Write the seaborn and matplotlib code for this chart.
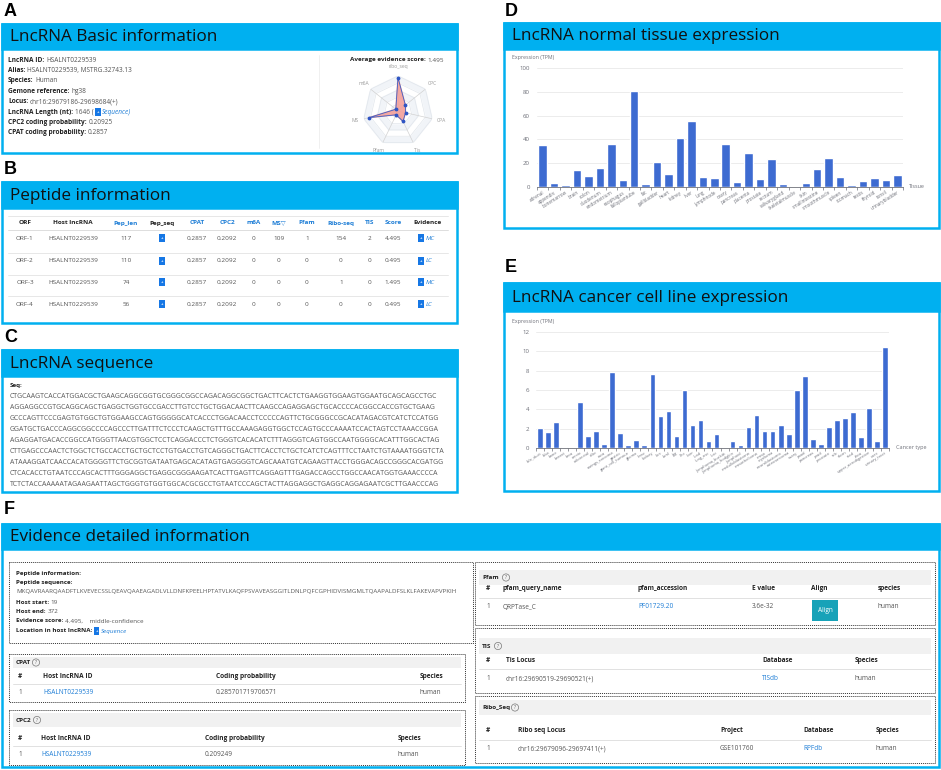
"""Rebuild the lncRNA detail page figure (panels A-F) on a 941x770 canvas:
info boxes and tables as text, expression panels as seaborn bar charts."""

import numpy as np
import matplotlib
matplotlib.use("Agg")
import matplotlib.pyplot as plt
from matplotlib.patches import Rectangle, Circle
import seaborn as sns

BLUE = "#00b0f0"
BAR = "#3d6bd1"
LINK = "#1f7ed6"
TXT = "#555555"
DARK = "#1a1a1a"
AXC = "#6e7079"

# ---- panel A ----
A_KEYS = ["LncRNA ID:", "Alias:", "Species:", "Gemone reference:", "Locus:",
          "LncRNA Length (nt):", "CPC2 coding probability:", "CPAT coding probability:"]
A_VALS = ["HSALNT0229539", "HSALNT0229539, MSTRG.32743.13", "Human", "hg38",
          "chr16:29679186-29698684(+)", "1646 (", "0.20925", "0.2857"]
RADAR_AXES = ["ribo_seq", "CPC", "CPA", "Tis", "Pfam", "MS", "m6A"]
RADAR_VALUES = [0.95, 0.27, 0.22, 0.33, 0.12, 0.85, 0.08]

# ---- panel B ----
B_COLS = ["ORF", "Host lncRNA", "Pep_len", "Pep_seq", "CPAT", "CPC2", "m6A", "MS\u25bd",
          "Pfam", "Ribo-seq", "TIS", "Score", "Evidence"]
B_BLUE = [False, False, True, False, True, True, True, True, True, True, True, True, False]
ORF_IDS = ["ORF-1", "ORF-2", "ORF-3", "ORF-4"]
HOST_IDS = ["HSALNT0229539", "HSALNT0229539", "HSALNT0229539", "HSALNT0229539"]
PEP_LEN = [117, 110, 74, 56]
PEP_CPAT = ["0.2857", "0.2857", "0.2857", "0.2857"]
PEP_CPC2 = ["0.2092", "0.2092", "0.2092", "0.2092"]
PEP_M6A = [0, 0, 0, 0]
PEP_MS = [109, 0, 0, 0]
PEP_PFAM = [1, 0, 0, 0]
PEP_RIBO = [154, 0, 1, 0]
PEP_TIS = [2, 0, 0, 0]
PEP_SCORE = ["4.495", "0.495", "1.495", "0.495"]
PEP_EVID = ["MC", "LC", "MC", "LC"]

# ---- panel C ----
SEQ_LINES = [
    "CTGCAAGTCACCATGGACGCTGAAGCAGGCGGTGCGGGCGGCCAGACAGGCGGCTGACTTCACTCTGAAGGTGGAAGTGGAATGCAGCAGCCTGC",
    "AGGAGGCCGTGCAGGCAGCTGAGGCTGGTGCCGACCTTGTCCTGCTGGACAACTTCAAGCCAGAGGAGCTGCACCCCACGGCCACCGTGCTGAAG",
    "GCCCAGTTCCCGAGTGTGGCTGTGGAAGCCAGTGGGGGCATCACCCTGGACAACCTCCCCCAGTTCTGCGGGCCGCACATAGACGTCATCTCCATGG",
    "GGATGCTGACCCAGGCGGCCCCAGCCCTTGATTTCTCCCTCAAGCTGTTTGCCAAAGAGGTGGCTCCAGTGCCCAAAATCCACTAGTCCTAAACCGGA",
    "AGAGGATGACACCGGCCATGGGTTAACGTGGCTCCTCAGGACCCTCTGGGTCACACATCTTTAGGGTCAGTGGCCAATGGGGCACATTTGGCACTAG",
    "CTTGAGCCCAACTCTGGCTCTGCCACCTGCTGCTCCTGTGACCTGTCAGGGCTGACTTCACCTCTGCTCATCTCAGTTTCCTAATCTGTAAAATGGGTCTA",
    "ATAAAGGATCAACCACATGGGGTTCTGCGGTGATAATGAGCACATAGTGAGGGGTCAGCAAATGTCAGAAGTTACCTGGGACAGCCGGGCACGATGG",
    "CTCACACCTGTAATCCCAGCACTTTGGGAGGCTGAGGCGGGAAGATCACTTGAGTTCAGGAGTTTGAGACCAGCCTGGCCAACATGGTGAAACCCCA",
    "TCTCTACCAAAAATAGAAGAATTAGCTGGGTGTGGTGGCACGCGCCTGTAATCCCAGCTACTTAGGAGGCTGAGGCAGGAGAATCGCTTGAACCCAG",
]

# ---- panel D ----
TISSUES = ["adrenal", "appendix", "bonemarrow", "brain", "colon", "duodenum", "endometrium",
           "esophagus", "fallopiantube", "fat", "gallbladder", "heart", "kidney", "liver",
           "lung", "lymphnode", "ovary", "pancreas", "placenta", "prostate", "rectum",
           "salivarygland", "skeletalmuscle", "skin", "smallintestine", "smoothmuscle",
           "spleen", "stomach", "testis", "thyroid", "tonsil", "urinarybladder"]
TISSUE_TPM = [35, 3.5, 2, 14.5, 9, 16, 36.5, 5.5, 80.5, 2.5, 21, 11, 41.5, 55.5, 8, 7.5,
              36.5, 4.5, 28.5, 6.5, 23.5, 2.5, 0.5, 3, 15, 24.5, 8.5, 2, 5, 7.5, 6, 10]

# ---- panel E ----
CANCERS = ["bile_duct", "blca", "bone", "breast", "brca", "cervix", "colorectal", "dlbc",
           "esca", "ewings_sarcoma", "gastric", "giant_cell_tumour", "glioma", "hnsc",
           "kidney", "kirc", "laml", "lgg", "lihc", "liver", "luad", "lung_nsc", "lusc",
           "lymphoma_burkitt", "lymphoma_hodgkin", "lymphoid", "medulloblastoma",
           "mesothelioma", "meso", "myeloma", "neuroblastoma", "osteosarcoma", "ovary",
           "paad", "pancreas", "prad", "prostate", "sclc", "skcm", "stad", "thca",
           "upper_aerodigestive", "ucec", "urinary_tract"]
CANCER_TPM = [2.1, 1.65, 2.65, 0.15, 0.05, 4.75, 1.25, 1.8, 0.45, 7.85, 1.6, 0.35, 0.8,
              0.35, 7.7, 3.35, 3.85, 1.2, 6.0, 2.35, 2.9, 0.7, 1.5, 0.05, 0.7, 0.35, 2.2,
              3.4, 1.8, 1.8, 2.35, 1.4, 6.0, 7.5, 0.9, 0.4, 2.2, 2.85, 3.1, 3.7, 1.15, 4.1,
              0.7, 10.4]

# ---- panel F ----
PEPTIDE = ("MKQAVRAARQAADFTLKVEVECSSLQEAVQAAEAGADLVLLDNFKPEELHPTATVLKAQFPSVAVEASGGITLDNLPQFC"
           "GPHIDVISMGMLTQAAPALDFSLKLFAKEVAPVPKIH")

sns.set_theme(style="white")
plt.rcParams["font.family"] = ["Open Sans", "DejaVu Sans"]

fig = plt.figure(figsize=(9.41, 7.70), dpi=100)
bg = fig.add_axes([0, 0, 1, 1])
bg.set_xlim(0, 941)
bg.set_ylim(770, 0)
bg.axis("off")


def txt(x, y, s, size=4.5, color=TXT, weight="normal", ha="left", style="normal", **kw):
    return bg.text(x, y, s, fontsize=size, color=color, fontweight=weight, ha=ha,
                   va="center", fontstyle=style, **kw)


def after(prev, s, gap=1.2, size=4.5, color=TXT, weight="normal", style="normal", **kw):
    return bg.annotate(s, xy=(1, 0.5), xycoords=prev, xytext=(gap, 0),
                       textcoords="offset points", fontsize=size, color=color,
                       fontweight=weight, fontstyle=style, va="center", ha="left", **kw)


def icon(x, y):
    txt(x, y, "+", size=3.2, color="white", ha="center", weight="bold",
        bbox=dict(boxstyle="square,pad=0.35", fc="#1677e5", ec="none"))


def after_icon(prev, gap=1.5):
    return after(prev, "+", gap=gap, size=3.2, color="white", weight="bold",
                 bbox=dict(boxstyle="square,pad=0.35", fc="#1677e5", ec="none"))


def qmark(x, y):
    bg.add_patch(Circle((x, y), 3.6, fc="none", ec="#777", lw=0.5))
    txt(x, y + 0.3, "?", size=3.4, color="#666", ha="center")


def panel(x0, y0, x1, y1, band, title, letter, lx, ly):
    bg.add_patch(Rectangle((x0, y0), x1 - x0, y1 - y0, fc="white", ec=BLUE, lw=1.8))
    bg.add_patch(Rectangle((x0, y0), x1 - x0, band - y0, fc=BLUE, ec=BLUE, lw=1.8))
    txt(x0 + 8, (y0 + band) / 2 + 0.5, title, size=12.3, color="#101010")
    bg.text(lx, ly, letter, fontsize=13, fontweight="bold", family="Liberation Sans",
            color="black", va="center", ha="left")


def dotted_box(x0, y0, x1, y1):
    bg.add_patch(Rectangle((x0, y0), x1 - x0, y1 - y0, fc="none", ec="#333",
                           lw=0.7, ls=(0, (1, 1))))


def hline(x0, x1, y, color="#e3e3e3", lw=0.6):
    bg.plot([x0, x1], [y, y], color=color, lw=lw)


# ================= A =================
panel(2, 24, 457, 153, 49, "LncRNA Basic information", "A", 4, 12)
for i, (k, v) in enumerate(zip(A_KEYS, A_VALS)):
    y = 60 + i * 10.4
    t = txt(8, y, k, size=4.7, color="#222", weight="bold")
    t2 = after(t, v, size=4.7)
    if k.startswith("LncRNA Length"):
        t3 = after_icon(t2, gap=2.2)
        after(t3, "Sequence)", gap=2.4, size=4.7, color=LINK, style="italic")
bg.plot([319, 319], [55, 148], color="#eeeeee", lw=0.6)
t = txt(350, 60, "Average evidence score:", size=4.6, color="#222", weight="bold")
after(t, "1.495", size=4.6)

rax = fig.add_axes([363 / 941, 1 - 146 / 770, 70 / 941, 70 / 770], projection="polar")
rax.set_theta_zero_location("N")
rax.set_theta_direction(-1)
theta = np.arange(len(RADAR_AXES)) * 2 * np.pi / len(RADAR_AXES)
tc = np.r_[theta, theta[0]]
for j, r in enumerate([1.0, 0.8, 0.6, 0.4, 0.2]):
    rax.fill(tc, [r] * len(tc), color="#f1f4f8" if j % 2 == 0 else "white", zorder=0)
    rax.plot(tc, [r] * len(tc), color="#e1e6ec", lw=0.5, zorder=1)
for t_ in theta:
    rax.plot([t_, t_], [0, 1], color="#d2d2d2", lw=0.5, zorder=1)
vals = np.r_[RADAR_VALUES, RADAR_VALUES[0]]
rax.fill(tc, vals, color="#f4a09a", alpha=0.9, zorder=2)
rax.plot(tc, vals, color="#3b5fc8", lw=0.6, zorder=3)
rax.scatter(theta, RADAR_VALUES, s=3, color="#2f55c4", zorder=4)
for t_, name in zip(theta, RADAR_AXES):
    rax.text(t_, 1.26, name, fontsize=3.6, color="#9a9a9a", ha="center", va="center")
rax.set_ylim(0, 1)
rax.set_xticks([])
rax.set_yticks([])
rax.grid(False)
rax.spines["polar"].set_visible(False)
rax.patch.set_alpha(0)

# ================= B =================
panel(2, 182, 457, 323, 208, "Peptide information", "B", 4, 170)
COLX = [25, 73, 126, 162, 197, 227, 254, 279, 307, 341, 370, 393, 428]
hline(8, 448, 216)
for cx, name, is_blue in zip(COLX, B_COLS, B_BLUE):
    txt(cx, 223, name, size=4.6, color=LINK if is_blue else "#222", weight="bold", ha="center")
hline(8, 448, 230, color="#d8d8d8")
row_y = [238, 261, 282, 304]
for i, y in enumerate(row_y):
    cells = [ORF_IDS[i], HOST_IDS[i], str(PEP_LEN[i]), None, PEP_CPAT[i], PEP_CPC2[i],
             str(PEP_M6A[i]), str(PEP_MS[i]), str(PEP_PFAM[i]), str(PEP_RIBO[i]),
             str(PEP_TIS[i]), PEP_SCORE[i]]
    for cx, c in zip(COLX, cells):
        if c is None:
            icon(cx, y)
        else:
            txt(cx, y, c, size=4.6, ha="center")
    icon(421, y)
    txt(426, y, PEP_EVID[i], size=4.6, color=LINK, style="italic")
    if i < 3:
        hline(8, 448, (y + row_y[i + 1]) / 2 + 3)

# ================= C =================
panel(2, 350, 457, 492, 376, "LncRNA sequence", "C", 4, 337)
txt(10, 386, "Seq:", size=4.5, color="#222", weight="bold")
for i, line in enumerate(SEQ_LINES):
    txt(10, 397 + i * 10.9, line, size=4.92, color="#5a5a5a")


# ================= D / E =================
def bar_chart(rect, names, vals, ymax, step, bw, rot, lsize):
    ax = fig.add_axes(rect)
    sns.barplot(x=names, y=vals, color=BAR, saturation=1, width=bw, ax=ax)
    ax.set_xlim(-0.5, len(names) - 0.5)
    ax.set_ylim(0, ymax)
    ax.set_yticks(np.arange(0, ymax + 0.1, step))
    ax.yaxis.grid(True, color="#e9e9e9", lw=0.6)
    ax.set_axisbelow(True)
    for s in ("top", "right", "left"):
        ax.spines[s].set_visible(False)
    ax.spines["bottom"].set_color(AXC)
    ax.spines["bottom"].set_linewidth(0.6)
    ax.set_xticks(np.arange(len(names)))
    ax.set_xticklabels(names, rotation=rot, ha="right", rotation_mode="anchor",
                       fontsize=lsize, color=AXC)
    ax.set_xticks(np.arange(len(names) + 1) - 0.5, minor=True)
    ax.tick_params(axis="x", which="major", length=0, pad=2)
    ax.tick_params(axis="x", which="minor", length=2.2, width=0.5, color=AXC, bottom=True)
    ax.tick_params(axis="y", length=0, labelsize=4.4, labelcolor=AXC, pad=5)
    ax.set_xlabel("")
    ax.set_ylabel("")
    ax.patch.set_alpha(0)
    return ax


panel(504, 23, 939, 228, 49, "LncRNA normal tissue expression", "D", 505, 12)
bar_chart([537 / 941, 1 - 187 / 770, 366 / 941, 119 / 770], TISSUES, TISSUE_TPM,
          100, 20, 0.74, 32, 3.3)
txt(512, 57, "Expression (TPM)", size=3.8, color=AXC)
txt(909, 187, "Tissue", size=4.0, color=AXC)

panel(504, 283, 939, 491, 311, "LncRNA cancer cell line expression", "E", 505, 268)
bar_chart([536 / 941, 1 - 448 / 770, 353 / 941, 116 / 770], CANCERS, CANCER_TPM,
          12, 2, 0.7, 32, 2.9)
txt(512, 322, "Expression (TPM)", size=3.8, color=AXC)
txt(896, 448, "Cancer type", size=4.0, color=AXC)

# ================= F =================
panel(2, 524, 939, 767, 549, "Evidence detailed information", "F", 4, 510)

# left: peptide summary
dotted_box(9, 562, 473, 643)
txt(16, 573, "Peptide information:", size=4.5, color="#222", weight="bold")
txt(16, 582.5, "Peptide sequence:", size=4.5, color="#222", weight="bold")
txt(16, 592, PEPTIDE, size=4.45, color="#5a5a5a")
t = txt(16, 602, "Host start:", size=4.5, color="#222", weight="bold")
after(t, "19", size=4.5)
t = txt(16, 611.5, "Host end:", size=4.5, color="#222", weight="bold")
after(t, "372", size=4.5)
t = txt(16, 621, "Evidence score:", size=4.5, color="#222", weight="bold")
after(t, "4.495,    middle-confidence", size=4.5)
t = txt(16, 631, "Location in host lncRNA:", size=4.5, color="#222", weight="bold")
t2 = after_icon(t, gap=2.2)
after(t2, "Sequence", gap=2.4, size=4.5, color=LINK, style="italic")


def sub_table(box, band, title, qx, head_y, line_y, row_y, cols, heads, row, link_cols):
    x0, y0, x1, y1 = box
    bg.add_patch(Rectangle((x0 + 4, band[0]), x1 - x0 - 8, band[1] - band[0],
                           fc="#f1f1f1", ec="none"))
    dotted_box(x0, y0, x1, y1)
    txt(x0 + 7, (band[0] + band[1]) / 2, title, size=4.6, color="#222", weight="bold")
    qmark(qx, (band[0] + band[1]) / 2)
    for cx, h in zip(cols, heads):
        txt(cx, head_y, h, size=4.7, color="#222", weight="bold")
    hline(x0 + 4, x1 - 4, line_y, color="#dcdcdc")
    for k, (cx, c) in enumerate(zip(cols, row)):
        if c is None:
            continue
        txt(cx, row_y, c, size=4.7, color=LINK if k in link_cols else TXT)


sub_table((9, 654, 465, 702), (657, 668), "CPAT", 36, 676, 684, 692,
          [18, 43, 216, 420], ["#", "Host lncRNA ID", "Coding probability", "Species"],
          ["1", "HSALNT0229539", "0.285701719706571", "human"], [1])
sub_table((9, 710, 465, 765), (713, 727), "CPC2", 37, 738, 746, 754,
          [18, 41, 205, 398], ["#", "Host lncRNA ID", "Coding probability", "Species"],
          ["1", "HSALNT0229539", "0.209249", "human"], [1])
sub_table((475, 562, 935, 625), (570, 585), "Pfam", 506, 588, 598, 607,
          [486, 503, 638, 752, 811, 878],
          ["#", "pfam_query_name", "pfam_accession", "E value", "Align", "species"],
          ["1", "QRPTase_C", "PF01729.20", "3.6e-32", None, "human"], [2])
bg.add_patch(Rectangle((812, 600), 26, 21, fc="#17a2b8", ec="none"))
txt(825, 611, "Align", size=4.7, color="white", ha="center")
sub_table((475, 628, 935, 693), (638, 654), "TIS", 498, 660, 669, 679,
          [486, 506, 762, 855], ["#", "Tis Locus", "Database", "Species"],
          ["1", "chr16:29690519-29690521(+)", "TISdb", "human"], [2])
sub_table((475, 696, 935, 763), (700, 715), "Ribo_Seq", 515, 730, 740, 749,
          [486, 518, 720, 803, 876], ["#", "Ribo seq Locus", "Project", "Database", "Species"],
          ["1", "chr16:29679096-29697411(+)", "GSE101760", "RPFdb", "human"], [3])

fig.savefig("out.png", dpi=100)
